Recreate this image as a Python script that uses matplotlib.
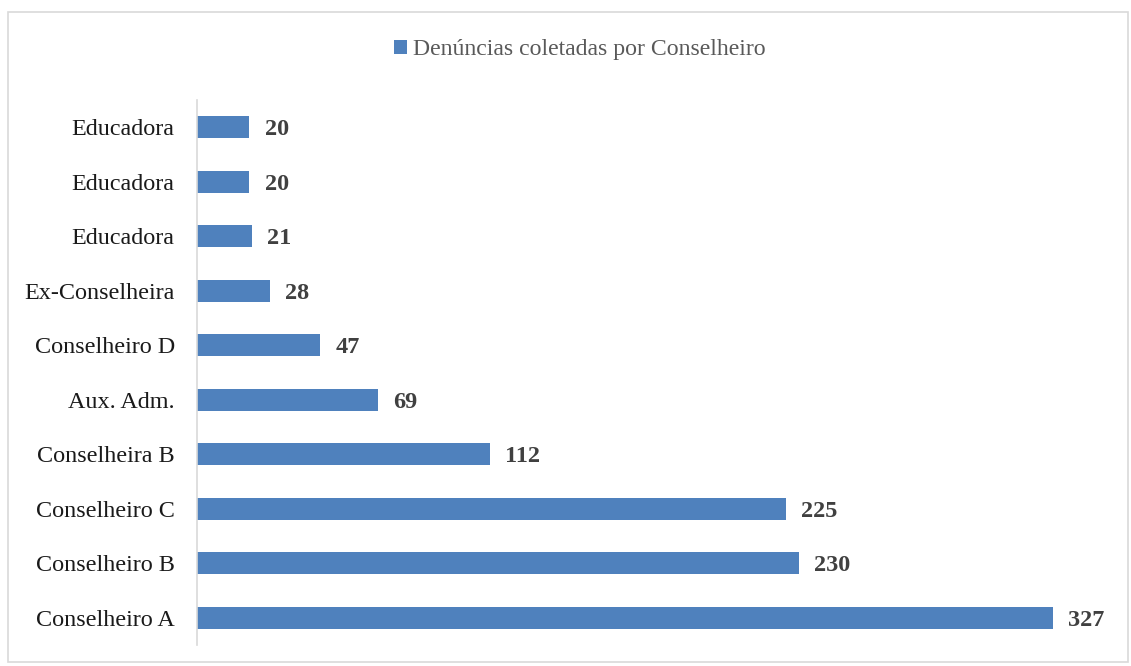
import matplotlib.pyplot as plt
from matplotlib.patches import Rectangle

plt.rcParams['font.family'] = ['Liberation Serif', 'DejaVu Serif']

# data, bottom to top
labels = ['Conselheiro A', 'Conselheiro B', 'Conselheiro C', 'Conselheira B',
          'Aux. Adm.', 'Conselheiro D', 'Ex-Conselheira', 'Educadora',
          'Educadora', 'Educadora']
values = [327, 230, 225, 112, 69, 47, 28, 21, 20, 20]
series_name = 'Denúncias coletadas por Conselheiro'
bar_color = '#4f81bd'

fig = plt.figure(figsize=(11.31, 6.66), dpi=100)
ax = fig.add_axes([197/1131, 21/666, (1100-197)/1131, (645-100)/666])

pos = range(len(values))
ax.barh(pos, values, height=0.4, color=bar_color, label=series_name)
for p, v in zip(pos, values):
    ax.text(v + 5.8, p, str(v), va='center_baseline', ha='left', fontsize=17.5,
            fontweight='bold', color='#404040')

ax.set_yticks(list(pos))
ax.set_yticklabels(labels, fontsize=17.4, color='#1a1a1a', va='center_baseline')
ax.set_ylim(-0.5, len(values) - 0.5)
ax.set_xlim(0, (1100-197)/((1053-197)/327))
ax.set_xticks([])
ax.tick_params(axis='y', length=0, pad=16)
for s in ['top', 'right', 'bottom']:
    ax.spines[s].set_visible(False)
ax.spines['left'].set_color('#d9d9d9')
ax.spines['left'].set_linewidth(1.2)

fig.legend(loc='center', bbox_to_anchor=(0.513, 1 - 50/666), frameon=False,
           fontsize=17.1, handlelength=0.55, handleheight=0.55, handletextpad=0.25,
           labelcolor='#595959')

# outer border
fig.patches.append(Rectangle((8/1131, 4/666), 1120/1131, 650/666,
                             transform=fig.transFigure, fill=False,
                             edgecolor='#d9d9d9', linewidth=1.2))

fig.savefig('out.png', dpi=100)
